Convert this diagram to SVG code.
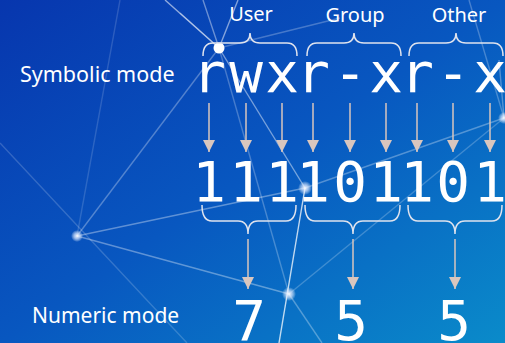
<svg xmlns="http://www.w3.org/2000/svg" width="505" height="343" viewBox="0 0 505 343">
  <defs>
    <linearGradient id="bg" x1="0" y1="0" x2="1" y2="1">
      <stop offset="0" stop-color="#0736ae"/>
      <stop offset="0.5" stop-color="#0857c0"/>
      <stop offset="1" stop-color="#0a8bca"/>
    </linearGradient>
    <radialGradient id="glow">
      <stop offset="0" stop-color="#ffffff" stop-opacity="0.95"/>
      <stop offset="0.45" stop-color="#dfeaff" stop-opacity="0.7"/>
      <stop offset="1" stop-color="#ffffff" stop-opacity="0"/>
    </radialGradient>
    <marker id="head" viewBox="0 0 12 12" refX="12" refY="6" markerWidth="12" markerHeight="12" markerUnits="userSpaceOnUse" orient="auto">
      <path d="M0,0 L12,6 L0,12 Z" fill="#d9c6be"/>
    </marker>
    <style>
      .net { stroke: #ffffff; stroke-width: 1.4; fill: none; }
      .label { font-family: "Noto Sans", "Open Sans", sans-serif; fill: #ffffff; }
      .mono { font-family: "DejaVu Sans Mono", "Liberation Mono", monospace; font-size: 56px; fill: #ffffff; text-anchor: middle; }
      .brace { stroke: #dfe3ee; stroke-width: 1.5; fill: none; }
      .arrow { stroke: #d9c6be; stroke-width: 1.5; fill: none; }
    </style>
  </defs>

  <!-- background -->
  <rect width="505" height="343" fill="url(#bg)"/>

  <!-- decorative network -->
  <g id="network">
    <line class="net" x1="165" y1="0" x2="219" y2="48" stroke-opacity="0.55"/>
    <line class="net" x1="203" y1="0" x2="219" y2="48" stroke-opacity="0.4"/>
    <line class="net" x1="238" y1="0" x2="219" y2="48" stroke-opacity="0.5"/>
    <line class="net" x1="180" y1="13" x2="219" y2="48" stroke-opacity="0.3"/>
    <line class="net" x1="219" y1="48" x2="340" y2="18" stroke-opacity="0.25"/>
    <line class="net" x1="219" y1="48" x2="305" y2="188" stroke-opacity="0.45"/>
    <line class="net" x1="219" y1="48" x2="77" y2="236" stroke-opacity="0.3"/>
    <line class="net" x1="219" y1="48" x2="289" y2="294" stroke-opacity="0.25"/>
    <line class="net" x1="120" y1="0" x2="77" y2="236" stroke-opacity="0.15"/>
    <line class="net" x1="0" y1="143" x2="187" y2="343" stroke-opacity="0.18"/>
    <line class="net" x1="77" y1="236" x2="305" y2="188" stroke-opacity="0.35"/>
    <line class="net" x1="77" y1="236" x2="289" y2="294" stroke-opacity="0.35"/>
    <line class="net" x1="305" y1="188" x2="504" y2="118" stroke-opacity="0.3"/>
    <line class="net" x1="305" y1="188" x2="279" y2="343" stroke-opacity="0.75" stroke-width="2"/>
    <line class="net" x1="289" y1="294" x2="504" y2="118" stroke-opacity="0.22"/>
    <line class="net" x1="289" y1="294" x2="322" y2="343" stroke-opacity="0.3"/>
    <line class="net" x1="469" y1="0" x2="504" y2="118" stroke-opacity="0.25"/>
    <line class="net" x1="499" y1="60" x2="504" y2="118" stroke-opacity="0.3"/>
    <circle cx="219" cy="48" r="5.5" fill="#ffffff"/>
    <circle cx="77" cy="236" r="6" fill="url(#glow)"/>
    <circle cx="305" cy="188" r="7" fill="url(#glow)"/>
    <circle cx="289" cy="294" r="7" fill="url(#glow)"/>
    <circle cx="504" cy="118" r="6" fill="url(#glow)"/>
  </g>

  <!-- row labels -->
  <g id="label-symbolic">
    <text class="label" x="20" y="82" font-size="21.5">Symbolic mode</text>
  </g>
  <g id="label-numeric">
    <text class="label" x="32" y="323" font-size="21">Numeric mode</text>
  </g>

  <!-- class headings -->
  <g id="head-user"><text class="label" x="251" y="21" font-size="20" text-anchor="middle">User</text></g>
  <g id="head-group"><text class="label" x="355" y="22" font-size="20" text-anchor="middle">Group</text></g>
  <g id="head-other"><text class="label" x="459" y="22" font-size="20" text-anchor="middle">Other</text></g>

  <!-- top braces -->
  <g id="braces-top">
    <path class="brace" d="M203,56 Q203,43 213,43 L240,43 Q250,43 250,33 Q250,43 260,43 L287,43 Q297,43 297,56"/>
    <path class="brace" d="M307,56 Q307,43 317,43 L344,43 Q354,43 354,33 Q354,43 364,43 L391,43 Q401,43 401,56"/>
    <path class="brace" d="M409,56 Q409,43 419,43 L446,43 Q456,43 456,33 Q456,43 466,43 L493,43 Q503,43 503,56"/>
  </g>

  <!-- symbolic permissions -->
  <g id="symbolic">
    <text class="mono" x="209" y="92">r</text>
    <text class="mono" x="246" y="92">w</text>
    <text class="mono" x="282" y="92">x</text>
    <text class="mono" x="313" y="92">r</text>
    <text class="mono" x="350" y="92">-</text>
    <text class="mono" x="386" y="92">x</text>
    <text class="mono" x="417" y="92">r</text>
    <text class="mono" x="453" y="92">-</text>
    <text class="mono" x="490" y="92">x</text>
  </g>

  <!-- bits -->
  <g id="bits">
    <text class="mono" x="209" y="201">1</text>
    <text class="mono" x="246" y="201">1</text>
    <text class="mono" x="282" y="201">1</text>
    <text class="mono" x="313" y="201">1</text>
    <text class="mono" x="350" y="201">0</text>
    <text class="mono" x="386" y="201">1</text>
    <text class="mono" x="417" y="201">1</text>
    <text class="mono" x="453" y="201">0</text>
    <text class="mono" x="490" y="201">1</text>
  </g>

  <!-- bottom braces -->
  <g id="braces-bottom">
    <path class="brace" d="M202,205 Q202,221 212,221 L238,221 Q248,221 248,234 Q248,221 258,221 L286,221 Q296,221 296,205"/>
    <path class="brace" d="M305,205 Q305,221 315,221 L343,221 Q353,221 353,234 Q353,221 363,221 L390,221 Q400,221 400,205"/>
    <path class="brace" d="M408,205 Q408,221 418,221 L445,221 Q455,221 455,234 Q455,221 465,221 L492,221 Q502,221 502,205"/>
  </g>

  <!-- octal digits -->
  <g id="octal">
    <text class="mono" x="249" y="340">7</text>
    <text class="mono" x="351" y="340">5</text>
    <text class="mono" x="454" y="340">5</text>
  </g>

  <!-- connectors -->
  <g id="connectors">
    <line class="arrow" x1="209" y1="103" x2="209" y2="152" marker-end="url(#head)"/>
    <line class="arrow" x1="246" y1="103" x2="246" y2="152" stroke="#c98791" marker-end="url(#head)"/>
    <line class="arrow" x1="282" y1="103" x2="282" y2="152" marker-end="url(#head)"/>
    <line class="arrow" x1="313" y1="103" x2="313" y2="152" marker-end="url(#head)"/>
    <line class="arrow" x1="350" y1="103" x2="350" y2="152" marker-end="url(#head)"/>
    <line class="arrow" x1="386" y1="103" x2="386" y2="152" marker-end="url(#head)"/>
    <line class="arrow" x1="417" y1="103" x2="417" y2="152" marker-end="url(#head)"/>
    <line class="arrow" x1="453" y1="103" x2="453" y2="152" marker-end="url(#head)"/>
    <line class="arrow" x1="490" y1="103" x2="490" y2="152" marker-end="url(#head)"/>
    <line class="arrow" x1="248" y1="239" x2="248" y2="289" marker-end="url(#head)"/>
    <line class="arrow" x1="353" y1="239" x2="353" y2="289" marker-end="url(#head)"/>
    <line class="arrow" x1="455" y1="239" x2="455" y2="289" marker-end="url(#head)"/>
  </g>
</svg>
